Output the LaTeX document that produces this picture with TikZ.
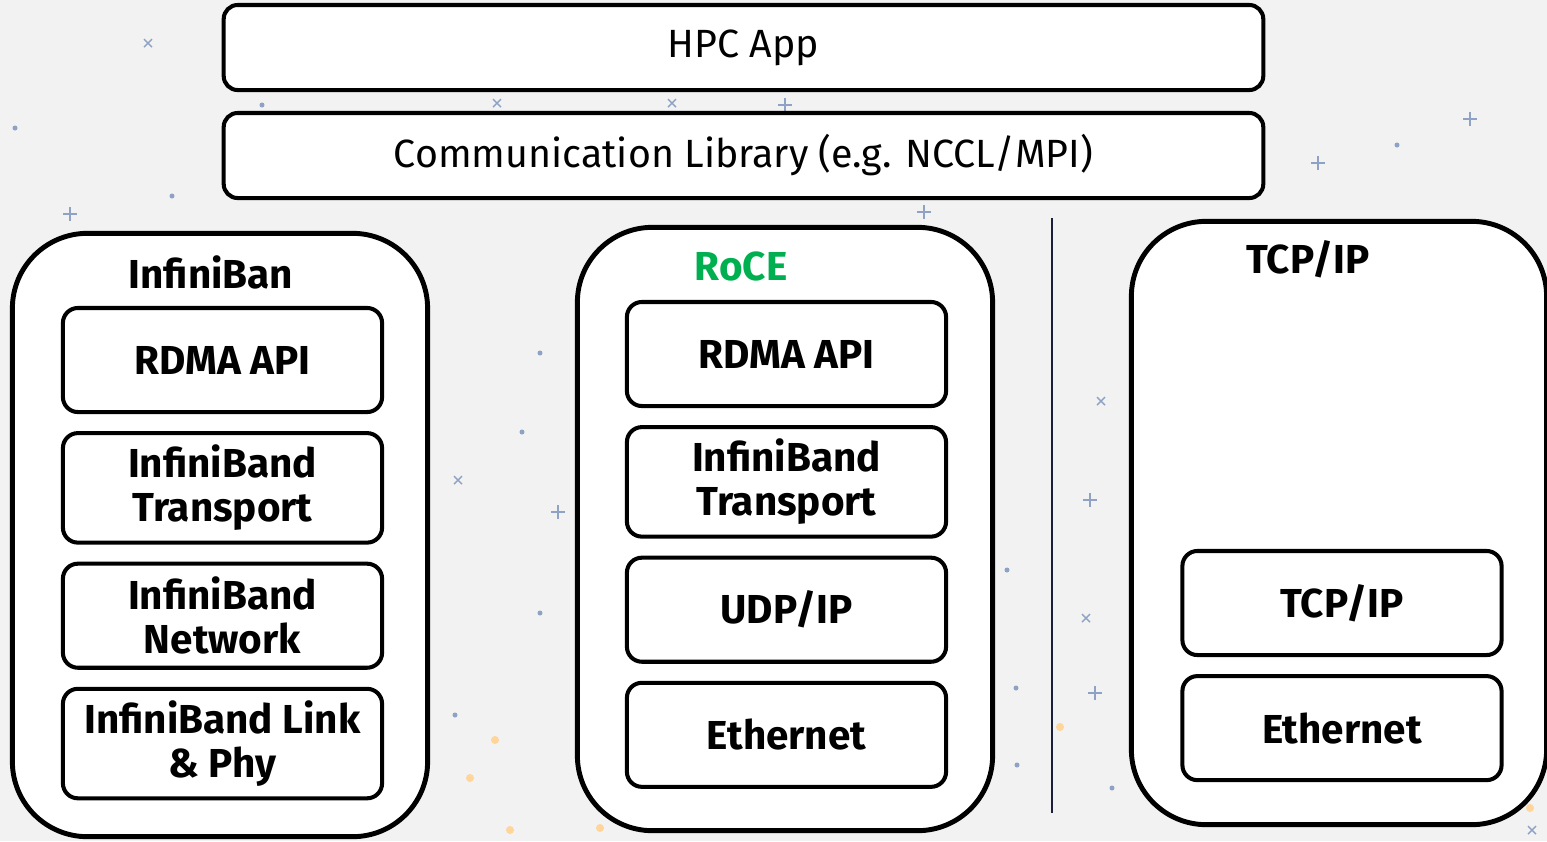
\documentclass[tikz,border=0pt]{standalone}
\usepackage{fontspec}
\setmainfont{Fira Sans}
\usepackage{xcolor}
\definecolor{bggray}{HTML}{F2F2F2}
\definecolor{roce}{HTML}{00B050}
\definecolor{sepline}{HTML}{1B1F3B}
\definecolor{dotblue}{HTML}{8DA2C4}
\definecolor{dotorange}{HTML}{FFD59A}
\usetikzlibrary{positioning}

\begin{document}
\begin{tikzpicture}[
		x=0.01cm, y=-0.01cm,
		node distance=0.17cm,
		layer/.style={draw, fill=white, line width=1.15pt, rounded corners=0.14cm, minimum width=10.39cm, minimum height=0.85cm, font=\fontsize{11.2}{13}\selectfont},
		stack/.style={draw, fill=white, line width=1.4pt, rounded corners=0.75cm, minimum width=4.15cm, minimum height=6.03cm},
		proto/.style={draw, fill=white, line width=1.15pt, rounded corners=0.15cm, minimum width=3.19cm, minimum height=1.04cm, align=center, font=\bfseries\fontsize{11.5}{12.6}\selectfont},
		title/.style={font=\bfseries\fontsize{11.5}{13}\selectfont}
	]
	\fill[bggray] (0,0) rectangle (1547,841);
	\useasboundingbox (0,0) rectangle (1547,841);

	% Background sparkles
	\foreach \px/\py in {262/105,540/353,522/432,540/613,455/715,1007/570,1016/688,1017/765,1112/788,1397/145,15/128,172/196}
		\fill[dotblue] (\px,\py) circle (2.5);
	\foreach \px/\py in {495/740,470/778,1060/727,1530/808,510/830,600/828}
		\fill[dotorange] (\px,\py) circle (4);
	\foreach \px/\py in {148/43,497/103,672/103,458/480,1101/401,1086/618,1532/830}
		\draw[dotblue, line width=0.4pt] (\px-4,\py-4) -- (\px+4,\py+4) (\px-4,\py+4) -- (\px+4,\py-4);
	\foreach \px/\py in {70/214,785/105,924/212,1318/163,1470/119,1090/500,558/512,1095/693}
		\draw[dotblue, line width=0.4pt] (\px-7,\py) -- (\px+7,\py) (\px,\py-7) -- (\px,\py+7);

	% Top layers
	\node[layer] (app) at (743.5,47.5) {HPC App};
	\node[layer] (comm) at (743.5,155.5) {Communication Library (e.g. NCCL/MPI)};

	% Stacks
	\node[stack] (ib) at (220,535) {};
	\node[stack] (rc) at (785,529) {};
	\node[stack] (tcp) at (1339,523) {};
	\node[title] (ibtitle) at (211,272) {InfiniBan};
	\node[title, text=roce] (rctitle) at (741,266) {RoCE};
	\node[title] (tcptitle) at (1308,259) {TCP/IP};

	% InfiniBand
	\node[proto] (ibapi) at (222.5,360) {RDMA API};
	\node[proto] (ibtrans) [below=of ibapi] {InfiniBand\\Transport};
	\node[proto] (ibnet) [below=of ibtrans] {InfiniBand\\Network};
	\node[proto] (iblink) [below=of ibnet] {InfiniBand Link\\\& Phy};

	% RoCE
	\node[proto] (rcapi) at (786.5,354) {RDMA API};
	\node[proto] (rctrans) [below=of rcapi] {InfiniBand\\Transport};
	\node[proto] (rcudp) [below=of rctrans] {UDP/IP};
	\node[proto] (rceth) [below=of rcudp] {Ethernet};

	% TCP/IP
	\node[proto] (tcpip) at (1342,603) {TCP/IP};
	\node[proto] (tcpeth) [below=of tcpip] {Ethernet};

	% Separator
	\coordinate (septop) at (1052,218);
	\coordinate (sepbot) at (1052,813);
	\draw[sepline, line width=0.7pt] (septop) -- (sepbot);
\end{tikzpicture}
\end{document}
